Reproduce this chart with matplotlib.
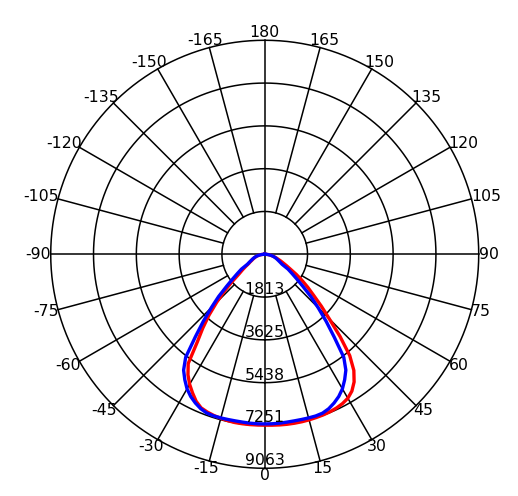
import numpy as np
import matplotlib.pyplot as plt

# gamma angles (deg): -90 = left, 0 = down, 90 = right, 2.5 deg steps
angles = [-90.0, -87.5, -85.0, -82.5, -80.0, -77.5, -75.0, -72.5, -70.0,
          -67.5, -65.0, -62.5, -60.0, -57.5, -55.0, -52.5, -50.0, -47.5,
          -45.0, -42.5, -40.0, -37.5, -35.0, -32.5, -30.0, -27.5, -25.0,
          -22.5, -20.0, -17.5, -15.0, -12.5, -10.0, -7.5, -5.0, -2.5,
          0.0, 2.5, 5.0, 7.5, 10.0, 12.5, 15.0, 17.5, 20.0, 22.5, 25.0,
          27.5, 30.0, 32.5, 35.0, 37.5, 40.0, 42.5, 45.0, 47.5, 50.0, 52.5,
          55.0, 57.5, 60.0, 62.5, 65.0, 67.5, 70.0, 72.5, 75.0, 77.5, 80.0,
          82.5, 85.0, 87.5, 90.0]

# C0-C180 plane (red), cd
red_cd = [0, 65, 130, 195, 260, 320, 380, 430, 480,
          540, 600, 690, 780, 950, 1150, 1380, 1800, 2330,
          2880, 3490, 4080, 4700, 5650, 6050, 6360, 6620, 6870,
          7040, 7110, 7160, 7190, 7220, 7238, 7240, 7240, 7238,
          7235, 7245, 7255, 7262, 7265, 7265, 7260, 7250, 7240, 7220, 7185,
          7130, 7040, 6870, 6600, 6200, 5600, 4720, 3870, 3250, 2700, 2300,
          1930, 1580, 1250, 1030, 850, 720, 600, 510, 420, 340, 270,
          200, 140, 70, 0]

# C90-C270 plane (blue), cd
blue_cd = [0, 70, 140, 200, 270, 340, 400, 460, 520,
           580, 650, 740, 850, 1170, 1400, 1700, 2100, 2650,
           3200, 3850, 4580, 5500, 5990, 6300, 6580, 6790, 6950,
           7080, 7160, 7180, 7175, 7168, 7165, 7170, 7180, 7185,
           7185, 7185, 7180, 7170, 7165, 7168, 7175, 7180, 7160, 7080, 6950,
           6790, 6580, 6300, 5990, 5500, 4580, 3850, 3200, 2650, 2100, 1700,
           1400, 1170, 850, 740, 650, 580, 520, 460, 400, 340, 270,
           200, 140, 70, 0]

ring_values = [1813, 3625, 5438, 7251, 9063]
grid_angles = list(range(-165, 181, 15))

rmax = ring_values[-1]
fs = 11.3

fig = plt.figure(figsize=(5.18, 4.96), dpi=100)
ax = fig.add_axes([0.0979, 0.0559, 0.8263, 0.8629], projection="polar")
ax.set_theta_zero_location("S")
ax.set_theta_direction(1)
ax.set_rlim(0, rmax)
ax.axis("off")

# rings
th_full = np.linspace(0, 2 * np.pi, 721)
for rv in ring_values:
    ax.plot(th_full, np.full_like(th_full, rv), color="black", lw=1.1,
            clip_on=False, zorder=1)

# spokes (the four main axes run through the centre)
for a in grid_angles:
    r0 = 0 if a % 90 == 0 else ring_values[0]
    ax.plot([np.radians(a)] * 2, [r0, rmax], color="black", lw=1.1,
            clip_on=False, zorder=1)

# curves
th = np.radians(angles)
ax.plot(th, red_cd, color="#ff0000", lw=2.4, zorder=2,
        solid_joinstyle="round")
ax.plot(th, blue_cd, color="#0000ff", lw=2.4, zorder=3,
        solid_joinstyle="round")

# ring labels
for rv in ring_values:
    ax.text(0, rv, str(rv), ha="center", va="bottom", fontsize=fs,
            color="black", zorder=5)

# angle labels anchored at spoke ends
renderer = fig.canvas.get_renderer()
for a in grid_angles:
    t = np.radians(a)
    ux = np.sin(t)
    uy = -np.cos(t)
    tmp = ax.text(0, 0, str(a), fontsize=fs)
    bb = tmp.get_window_extent(renderer)
    tmp.remove()
    ax.annotate(str(a), xy=(t, rmax), xycoords="data",
                xytext=(ux * bb.width / 2, uy * bb.height / 2),
                textcoords="offset pixels", ha="center", va="center",
                fontsize=fs, color="black", annotation_clip=False)

fig.savefig("out.png", dpi=100, facecolor="white")
